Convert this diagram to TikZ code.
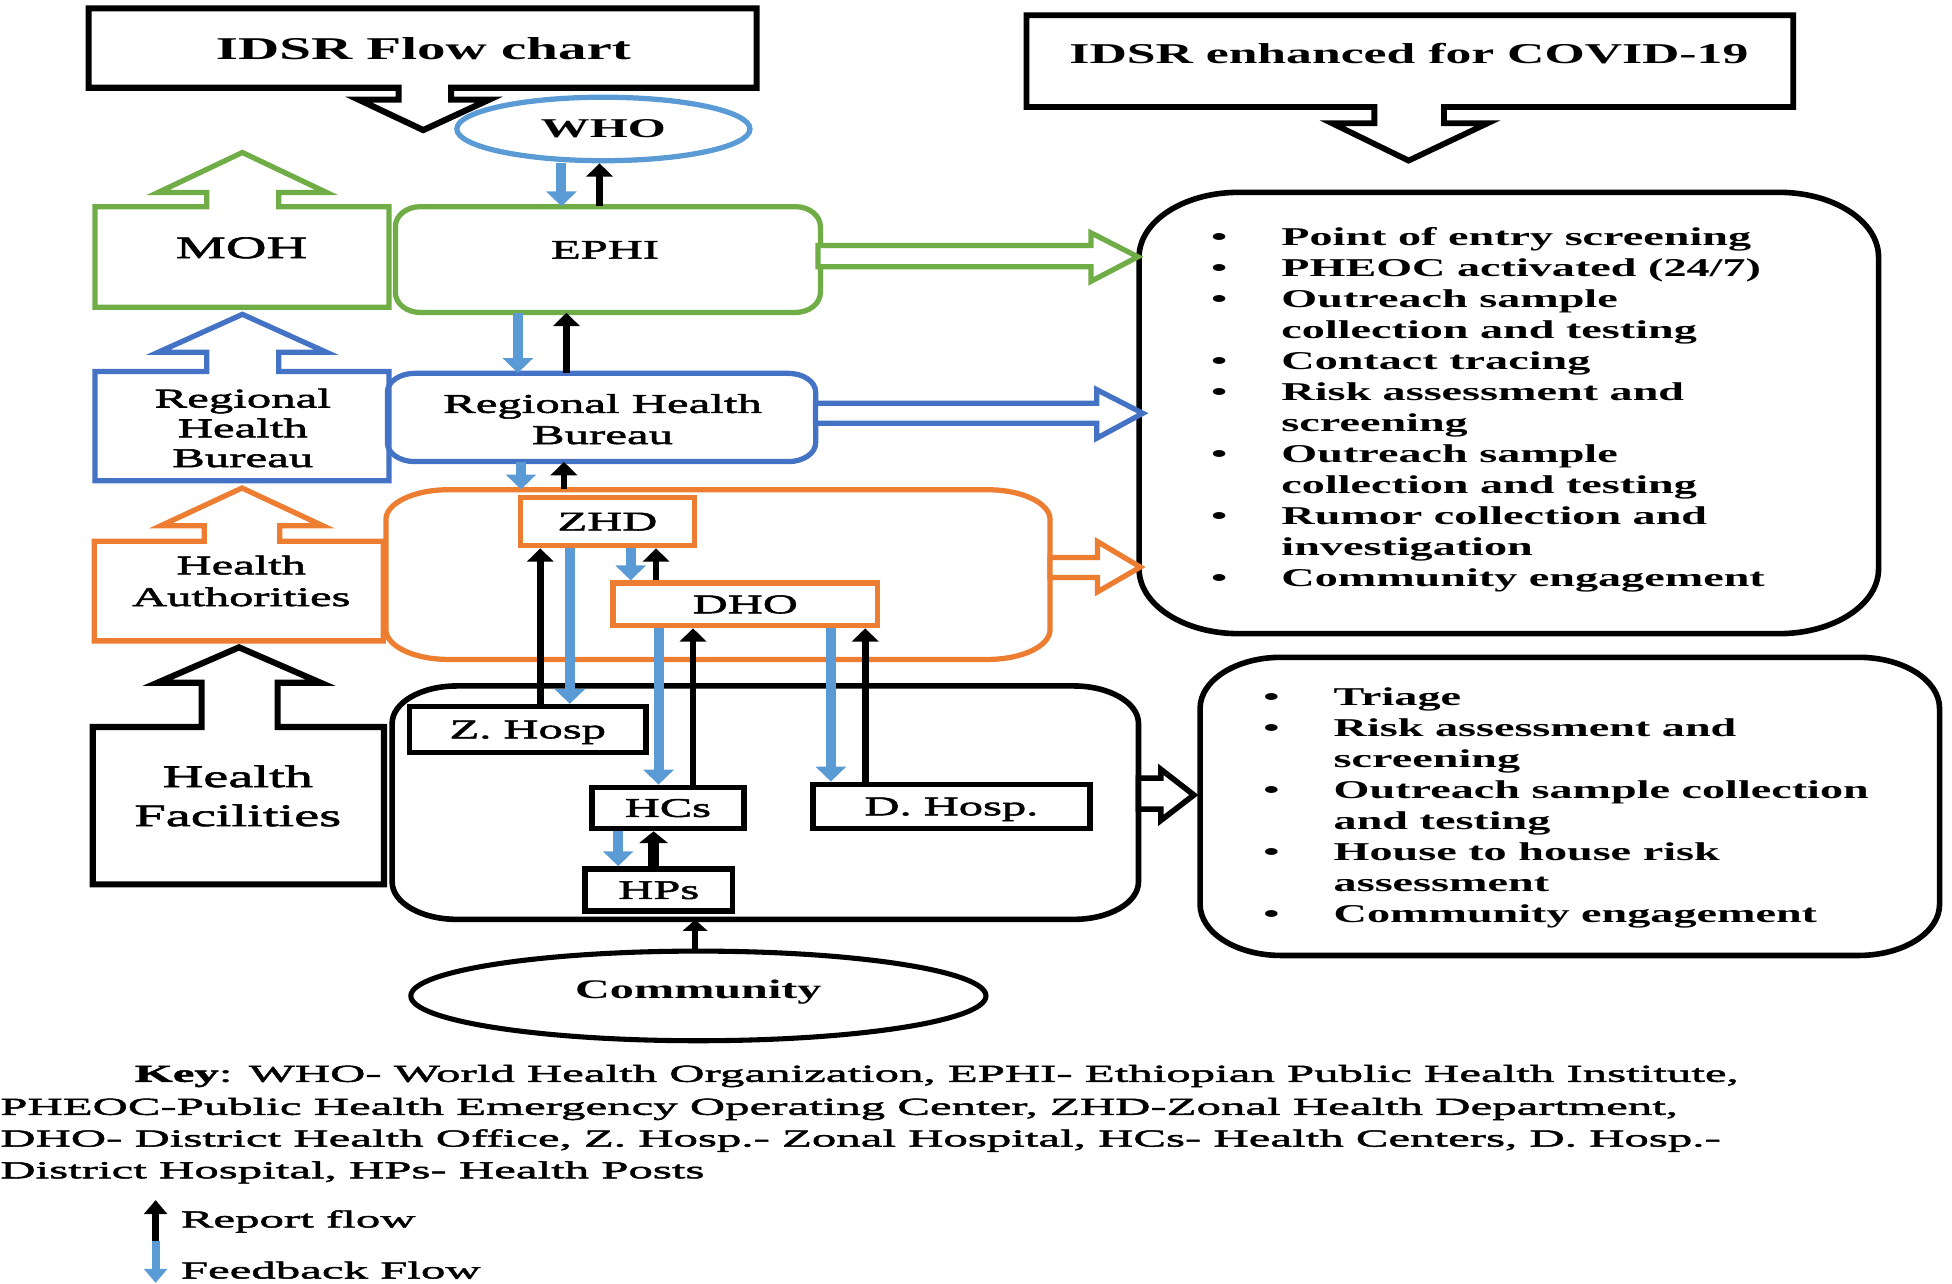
\documentclass[tikz,border=0pt]{standalone}
\usepackage{fontspec}
\setmainfont{Liberation Serif}[FakeStretch=1.8]
\newfontfamily\rgfont{Liberation Serif}[FakeStretch=1.8, FakeBold=2]
\newfontfamily\keyfont{Liberation Serif}[FakeStretch=2.0, FakeBold=2]
\usetikzlibrary{arrows.meta,shapes.geometric}
\definecolor{cgreen}{RGB}{112,173,71}
\definecolor{cblue}{RGB}{68,114,196}
\definecolor{clblue}{RGB}{91,155,213}
\definecolor{corange}{RGB}{237,125,49}
\def\pxu{0.025cm}
\newcommand\erect[6]{(#1+#5,#2) -- (#3-#5,#2) .. controls (#3-0.448*#5,#2) and (#3,#2+0.448*#6) .. (#3,#2+#6) -- (#3,#4-#6) .. controls (#3,#4-0.448*#6) and (#3-0.448*#5,#4) .. (#3-#5,#4) -- (#1+#5,#4) .. controls (#1+0.448*#5,#4) and (#1,#4-0.448*#6) .. (#1,#4-#6) -- (#1,#2+#6) .. controls (#1,#2+0.448*#6) and (#1+0.448*#5,#2) .. (#1+#5,#2) -- cycle}
\tikzset{
 fb/.style={draw=clblue, line width=5.7pt, -{Triangle[width=17pt,length=8.5pt]}},
 rp/.style={draw=black, line width=3.9pt, -{Triangle[width=15pt,length=7.6pt]}},
 rpthick/.style={draw=black, line width=6.1pt, -{Triangle[width=16pt,length=6.7pt]}},
 anch/.style={rectangle, draw=none, inner sep=0pt},
 sbox/.style={rectangle, draw, fill=white, line width=3pt, inner sep=0pt, text depth=0pt, font=\rgfont\fontsize{15.4}{18}\selectfont},
 lbl/.style={inner sep=0pt, text depth=0pt, font=\rgfont\fontsize{15.4}{18}\selectfont},
 mlbl/.style={inner sep=0pt, align=center},
 upcall/.style={line width=3pt, fill=white, line join=miter},
 blockarr/.style={line width=3pt, fill=white, line join=miter},
 keytxt/.style={inner sep=0pt, anchor=base west, font=\keyfont\fontsize{13.95}{16}\selectfont},
 lsttxt/.style={inner sep=0pt, anchor=west, font=\bfseries\fontsize{14.65}{17.7}\selectfont},
}
\begin{document}
\begin{tikzpicture}[x=0.025cm,y=-0.025cm]
\useasboundingbox (0,0) rectangle (1568,1031);

% ---- title callouts
\draw[upcall, line width=3.5pt] (71.2,6.7) -- (607.8,6.7) -- (607.8,70.5) -- (362.4,70.5) -- (362.4,80) -- (393,80) -- (340,104.5) -- (288,80) -- (320.2,80) -- (320.2,70.5) -- (71.2,70.5) -- cycle;
\node[inner sep=0pt, text depth=0pt, font=\bfseries\fontsize{18.1}{20}\selectfont] (t1) at (340.2,39.2) {IDSR Flow chart};

\draw[upcall, line width=3.3pt] (824.5,12.3) -- (1440.5,12.3) -- (1440.5,86) -- (1160,86) -- (1160,99) -- (1195,99) -- (1131.5,129) -- (1070,99) -- (1104,99) -- (1104,86) -- (824.5,86) -- cycle;
\node[inner sep=0pt, text depth=0pt, font=\bfseries\fontsize{16.4}{19}\selectfont] (t2) at (1131.8,43.1) {IDSR enhanced for COVID-19};

% ---- WHO
\node[ellipse, draw=clblue, line width=3pt, fill=white, minimum width=235.5*\pxu, minimum height=51*\pxu, inner sep=0pt, text depth=0pt, font=\bfseries\fontsize{15.5}{18}\selectfont] (who) at (484.7,103.6) {WHO};

% ---- left callouts
\draw[upcall, draw=cgreen] (76.4,246.8) -- (76.4,166) -- (166,166) -- (166,154.6) -- (127,154.6) -- (194.7,122.5) -- (262.3,154.6) -- (224,154.6) -- (224,166) -- (312.5,166) -- (312.5,246.8) -- cycle;
\draw[upcall, draw=cblue] (76.4,386.2) -- (76.4,298.5) -- (166,298.5) -- (166,283) -- (127,283) -- (194.7,252.5) -- (262.3,283) -- (224,283) -- (224,298.5) -- (312.5,298.5) -- (312.5,386.2) -- cycle;
\draw[upcall, draw=corange] (75.7,514.8) -- (75.7,434.7) -- (164,434.7) -- (164,422.4) -- (129,422.4) -- (194.4,392) -- (259.5,422.4) -- (224.7,422.4) -- (224.7,434.7) -- (307.8,434.7) -- (307.8,514.8) -- cycle;
\draw[upcall, draw=black, line width=3.5pt] (74.5,710.4) -- (74.5,584) -- (162,584) -- (162,548.4) -- (126.5,548.4) -- (192,520) -- (257.5,548.4) -- (223,548.4) -- (223,584) -- (308.5,584) -- (308.5,710.4) -- cycle;

% ---- rounded boxes (anchor nodes + drawn outlines)
\node[anch, minimum width=341.4*\pxu, minimum height=85*\pxu] (ephi) at (488.3,208.5) {};
\node[anch, minimum width=344*\pxu, minimum height=70.9*\pxu] (rhb) at (483.2,335.35) {};
\node[anch, minimum width=533.5*\pxu, minimum height=136.3*\pxu] (hab) at (576.75,461.55) {};
\node[anch, minimum width=599.5*\pxu, minimum height=187.5*\pxu] (fac) at (614.75,644.75) {};
\node[anch, minimum width=594*\pxu, minimum height=354.5*\pxu] (lst1) at (1212,331.75) {};
\node[anch, minimum width=594*\pxu, minimum height=239.5*\pxu] (lst2) at (1261,647.75) {};

\draw[draw=cgreen, line width=3pt] \erect{317.6}{166}{659}{251}{20}{16};
\draw[draw=cblue, line width=3pt] \erect{311.2}{299.9}{655.2}{370.8}{22}{15};
\draw[draw=corange, line width=3pt] \erect{310}{393.4}{843.5}{529.7}{50}{24};
\draw[draw=black, line width=3.2pt] \erect{315}{551}{914.5}{738.5}{52}{30};
\draw[draw=black, line width=3.2pt] \erect{915}{154.5}{1509}{509}{80}{52};
\draw[draw=black, line width=3.2pt] \erect{964}{528}{1558}{767.5}{65}{41};

% ---- block arrows
\draw[blockarr, draw=cgreen] (657,197.3) -- (876.3,197.3) -- (876.3,187) -- (914,206.3) -- (876.3,226) -- (876.3,214.2) -- (657,214.2) -- cycle;
\draw[blockarr, draw=cblue] (655,324) -- (881,324) -- (881,313) -- (918,332) -- (881,352) -- (881,340) -- (655,340) -- cycle;
\draw[blockarr, draw=corange] (843.5,447.8) -- (881.5,447.8) -- (881.5,435) -- (916,455.5) -- (881.5,475.5) -- (881.5,463.8) -- (843.5,463.8) -- cycle;
\draw[blockarr, draw=black, line width=3.2pt] (914.5,625) -- (932.5,625) -- (932.5,618) -- (959,638.6) -- (932.5,659) -- (932.5,650) -- (914.5,650) -- cycle;

% ---- small boxes
\node[sbox, draw=corange, minimum width=139.3*\pxu, minimum height=38.8*\pxu] (zhd) at (488,419) {ZHD};
\node[sbox, draw=corange, minimum width=212.6*\pxu, minimum height=34.3*\pxu] (dho) at (598.7,485.45) {DHO};
\node[sbox, line width=3.2pt, minimum width=190*\pxu, minimum height=36.7*\pxu] (zhosp) at (424,586) {Z. Hosp\hspace{10.7pt}};
\node[sbox, line width=3.2pt, minimum width=122*\pxu, minimum height=33*\pxu] (hcs) at (536.5,649) {HCs};
\node[sbox, line width=3.2pt, minimum width=118.4*\pxu, minimum height=34*\pxu] (hps) at (529.2,715) {HPs};
\node[sbox, line width=3.2pt, minimum width=222.5*\pxu, minimum height=35.5*\pxu] (dhosp) at (764.3,647.8) {D. Hosp.\hspace{21pt}};

% ---- community
\node[ellipse, draw, line width=2.9pt, minimum width=462*\pxu, minimum height=72*\pxu, inner sep=0pt] (comm) at (561,800) {};
\node[inner sep=0pt, text depth=0pt, font=\bfseries\fontsize{15.3}{18}\selectfont] (commt) at (561,794.3) {Community};

% ---- labels
\node[lbl, font=\rgfont\fontsize{17.9}{22}\selectfont] (mohl) at (194,199) {MOH};
\node[lbl] (ephil) at (486,200.7) {EPHI};
\node[mlbl, font=\rgfont\fontsize{15.5}{17}\selectfont] (rhbl) at (195,343.8) {Regional\\Health\\Bureau};
\node[mlbl, font=\rgfont\fontsize{15.5}{17.8}\selectfont] (rhbr) at (484,336.7) {Regional Health\\Bureau};
\node[mlbl, font=\rgfont\fontsize{15.4}{18.1}\selectfont] (hal) at (193.8,466.7) {Health\\Authorities};
\node[mlbl, font=\rgfont\fontsize{17.9}{22.3}\selectfont] (hfl) at (191,639.3) {Health\\Facilities};

% ---- lists
\node[lsttxt] (l1t) at (972.5,329.3) {\begin{tabular}{@{}l@{\hspace{31pt}}l@{}}
• & Point of entry screening\\
• & PHEOC activated (24/7)\\
• & Outreach sample\\
  & collection and testing\\
• & Contact tracing\\
• & Risk assessment and\\
  & screening\\
• & Outreach sample\\
  & collection and testing\\
• & Rumor collection and\\
  & investigation\\
• & Community engagement
\end{tabular}};
\node[lsttxt] (l2t) at (1014.5,649) {\begin{tabular}{@{}l@{\hspace{31pt}}l@{}}
• & Triage\\
• & Risk assessment and\\
  & screening\\
• & Outreach sample collection\\
  & and testing\\
• & House to house risk\\
  & assessment\\
• & Community engagement
\end{tabular}};

% ---- lanes
\coordinate (xA) at (451,0);
\coordinate (xB) at (481.6,0);
\coordinate (xC) at (416,0);
\coordinate (xD) at (455,0);
\coordinate (xE) at (418.5,0);
\coordinate (xF) at (453,0);
\coordinate (xG) at (434,0);
\coordinate (xH) at (457.7,0);
\coordinate (xI) at (506.6,0);
\coordinate (xJ) at (527,0);
\coordinate (xK) at (529,0);
\coordinate (xL) at (556.7,0);
\coordinate (xM) at (667.4,0);
\coordinate (xN) at (695,0);
\coordinate (xO) at (496.6,0);
\coordinate (xP) at (525,0);
\coordinate (xQ) at (558.4,0);

% ---- connectors
\draw[fb] (who.south -| xA) -- (ephi.north -| xA);
\draw[rp] (ephi.north -| xB) -- (who.south -| xB);
\draw[fb] (ephi.south -| xC) -- (rhb.north -| xC);
\draw[rp] (rhb.north -| xD) -- (ephi.south -| xD);
\draw[fb] (rhb.south -| xE) -- (hab.north -| xE);
\draw[rp] (hab.north -| xF) -- (rhb.south -| xF);
\draw[rp] (zhosp.north -| xG) -- (zhd.south -| xG);
\draw[fb] (zhd.south -| xH) -- (zhosp.north -| xH);
\draw[fb] (zhd.south -| xI) -- (dho.north -| xI);
\draw[rp] (dho.north -| xJ) -- (zhd.south -| xJ);
\draw[fb] (dho.south -| xK) -- (hcs.north -| xK);
\draw[rp] (hcs.north -| xL) -- (dho.south -| xL);
\draw[fb] (dho.south -| xM) -- (dhosp.north -| xM);
\draw[rp] (dhosp.north -| xN) -- (dho.south -| xN);
\draw[fb] (hcs.south -| xO) -- (hps.north -| xO);
\draw[rpthick] (hps.north -| xP) -- (hcs.south -| xP);
\draw[draw=black, line width=3.4pt, -{Triangle[width=14pt,length=6.4pt]}] (comm.north -| xQ) -- (fac.south -| xQ);

% ---- key
\node[keytxt] (k1) at (108,869) {\textbf{Key}: WHO- World Health Organization, EPHI- Ethiopian Public Health Institute,};
\node[keytxt] (k2) at (0,895.5) {PHEOC-Public Health Emergency Operating Center, ZHD-Zonal Health Department,};
\node[keytxt] (k3) at (0,921) {DHO- District Health Office, Z. Hosp.- Zonal Hospital, HCs- Health Centers, D. Hosp.-};
\node[keytxt] (k4) at (0,946.5) {District Hospital, HPs- Health Posts};

% ---- legend
\coordinate (lgm) at (125,997);
\coordinate (lgt) at (125,964);
\coordinate (lgb) at (125,1030.5);
\draw[draw=black, line width=4.3pt, -{Triangle[width=13pt,length=8pt]}] (lgm) -- (lgt);
\draw[draw=clblue, line width=4.5pt, -{Triangle[width=13pt,length=8pt]}] (lgm) -- (lgb);
\node[keytxt] (lrep) at (145,986) {Report flow};
\node[keytxt] (lfb) at (145,1027) {Feedback Flow};
\end{tikzpicture}
\end{document}
